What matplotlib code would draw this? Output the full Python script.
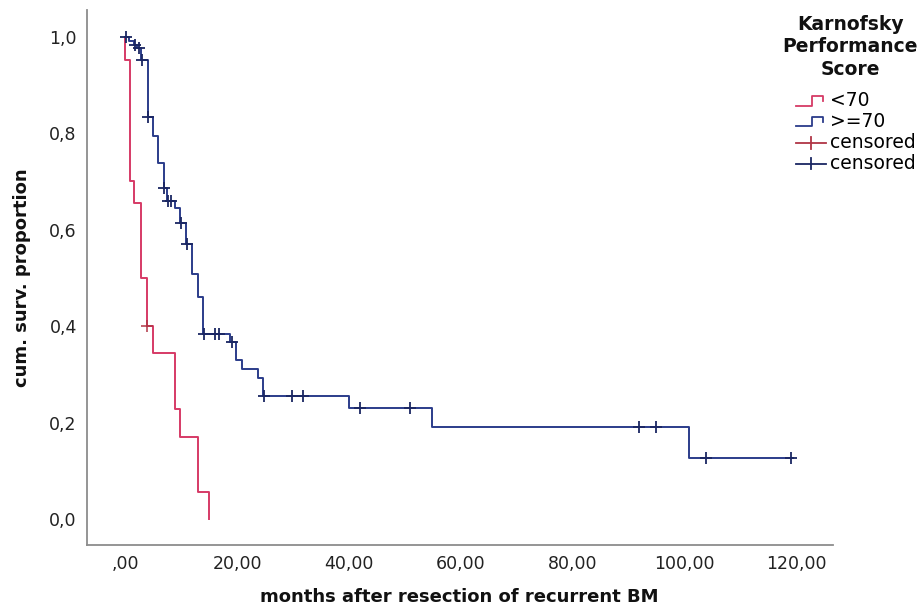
import matplotlib
matplotlib.use("Agg")
import matplotlib.pyplot as plt
from matplotlib.lines import Line2D
from matplotlib.legend_handler import HandlerBase

# Kaplan-Meier estimates (months, survival after the event)
low_t = [0.0, 0.9, 1.6, 2.85, 3.9, 4.9, 8.9, 9.8, 13.0, 14.9]
low_s = [0.952, 0.701, 0.655, 0.500, 0.400, 0.344, 0.228, 0.171, 0.057, 0.0]
low_cens = [3.9]
low_end = 14.9

high_t = [0.6, 1.5, 2.1, 2.9, 4.05, 4.9, 5.95, 6.85, 7.5, 8.9, 9.8, 10.9, 11.9,
          13.0, 13.9, 18.75, 19.8, 20.8, 23.8, 24.7, 40.0, 54.9, 100.8]
high_s = [0.991, 0.983, 0.976, 0.952, 0.833, 0.795, 0.739, 0.687, 0.660, 0.645,
          0.615, 0.570, 0.508, 0.461, 0.384, 0.367, 0.330, 0.311, 0.292, 0.256,
          0.231, 0.192, 0.127]
high_cens = [0.1, 1.8, 2.5, 3.0, 4.1, 6.9, 7.7, 8.2, 9.9, 11.0, 14.0, 16.0, 16.7,
             19.0, 24.8, 29.8, 31.8, 42.0, 50.9, 91.8, 94.8, 103.8, 118.9]
high_end = 119.3

xticks = [0, 20, 40, 60, 80, 100, 120]
xticklabels = [",00", "20,00", "40,00", "60,00", "80,00", "100,00", "120,00"]
yticks = [0.0, 0.2, 0.4, 0.6, 0.8, 1.0]
yticklabels = ["0,0", "0,2", "0,4", "0,6", "0,8", "1,0"]

RED = "#d63a66"
RED_DARK = "#b03545"
BLUE = "#2b3c8a"
BLUE_DARK = "#1a2662"


def surv_at(t, times, surv):
    s = 1.0
    for ti, si in zip(times, surv):
        if ti <= t:
            s = si
    return s


class StepHandler(HandlerBase):
    def create_artists(self, legend, orig_handle, xdescent, ydescent,
                       width, height, fontsize, trans):
        x0, y0 = -xdescent, -ydescent
        xs = [x0, x0 + 0.55 * width, x0 + 0.55 * width, x0 + 0.9 * width, x0 + 0.9 * width]
        ys = [y0 + 0.05 * height, y0 + 0.05 * height, y0 + 0.8 * height,
              y0 + 0.8 * height, y0 + 0.4 * height]
        ln = Line2D(xs, ys, color=orig_handle.get_color(), lw=1.3)
        ln.set_transform(trans)
        return [ln]


class CensHandler(HandlerBase):
    def create_artists(self, legend, orig_handle, xdescent, ydescent,
                       width, height, fontsize, trans):
        x0, y0 = -xdescent, -ydescent
        c = orig_handle.get_color()
        h = Line2D([x0, x0 + width], [y0 + 0.4 * height] * 2, color=c, lw=1.3)
        v = Line2D([x0 + 0.5 * width] * 2, [y0 - 0.05 * height, y0 + 0.85 * height],
                   color=c, lw=1.3)
        h.set_transform(trans)
        v.set_transform(trans)
        return [h, v]


fig = plt.figure(figsize=(9.21, 6.12), dpi=100)
ax = fig.add_axes([0.094, 0.109, 0.810, 0.875])

# step curves
ax.step([0.0] + low_t + [low_end], [1.0] + low_s + [low_s[-1]], where="post",
        color=RED, lw=1.4)
ax.step([0.0] + high_t + [high_end], [1.0] + high_s + [high_s[-1]], where="post",
        color=BLUE, lw=1.4)

# censored marks
ax.plot(low_cens, [surv_at(t, low_t, low_s) for t in low_cens], ls="none",
        marker="+", ms=8, mew=1.1, color=RED_DARK)
ax.plot(high_cens, [surv_at(t, high_t, high_s) for t in high_cens], ls="none",
        marker="+", ms=8.5, mew=1.3, color=BLUE_DARK)

ax.set_xlim(-6.9, 126.4)
ax.set_ylim(-0.054, 1.056)
ax.set_xticks(xticks)
ax.set_xticklabels(xticklabels)
ax.set_yticks(yticks)
ax.set_yticklabels(yticklabels)
ax.tick_params(length=0, labelsize=12.5, colors="#222222", pad=7)

for side in ["top", "right"]:
    ax.spines[side].set_visible(False)
for side in ["left", "bottom"]:
    ax.spines[side].set_color("#8c8c8c")
    ax.spines[side].set_linewidth(1.3)

ax.set_xlabel("months after resection of recurrent BM", fontsize=13,
              fontweight="bold", color="#111111")
ax.xaxis.set_label_coords(0.5, -0.08)
ax.set_ylabel("cum. surv. proportion", fontsize=13, fontweight="bold",
              color="#111111")
ax.yaxis.set_label_coords(-0.075, 0.5)

# legend title and entries
fig.text(0.923, 0.976, "Karnofsky\nPerformance\nScore", ha="center", va="top",
         fontsize=13.5, fontweight="bold", linespacing=1.25, color="#111111")

h_low = Line2D([], [], color=RED)
h_high = Line2D([], [], color=BLUE)
h_lc = Line2D([], [], color=RED_DARK)
h_hc = Line2D([], [], color=BLUE_DARK)
leg = fig.legend([h_low, h_high, h_lc, h_hc], ["<70", ">=70", "censored", "censored"],
                 loc="upper left", bbox_to_anchor=(0.864, 0.851), frameon=False,
                 fontsize=13.5, handlelength=1.6, handletextpad=0.25,
                 labelspacing=0.1, borderaxespad=0.0, borderpad=0.0,
                 handler_map={h_low: StepHandler(), h_high: StepHandler(),
                              h_lc: CensHandler(), h_hc: CensHandler()})

fig.savefig("out.png", dpi=100, facecolor="white")
